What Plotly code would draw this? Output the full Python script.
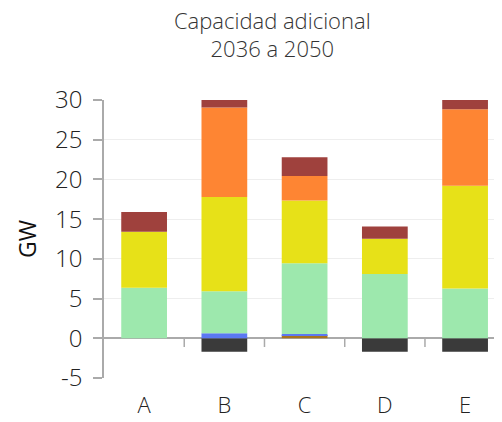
import plotly.graph_objects as go

# escenarios
categories = ['A', 'B', 'C', 'D', 'E']

# GW por tecnologia (negativos = retiros)
retiros = [0, -1.7, 0, -1.7, -1.7]
cafe = [0, 0, 0.4, 0, 0]
azul = [0, 0.63, 0.15, 0, 0]
verde = [6.35, 5.3, 8.9, 8.1, 6.26]
amarillo = [7.05, 11.87, 7.91, 4.42, 12.94]
naranja = [0, 11.25, 3.06, 0, 9.63]
granate = [2.5, 1.3, 2.36, 1.56, 1.4]

y_ticks = [-5, 0, 5, 10, 15, 20, 25, 30]
y_labels = ['-5', '0', '5', '10', '15', '20', '25', '30']

series = [
    ('retiros', retiros, '#3a3a3a'),
    ('cafe', cafe, '#a8741f'),
    ('azul', azul, '#5b78f2'),
    ('verde', verde, '#9de8ad'),
    ('amarillo', amarillo, '#e7e118'),
    ('naranja', naranja, '#fe8533'),
    ('granate', granate, '#9f413d'),
]

font = 'Open Sans'

fig = go.Figure()
for name, vals, color in series:
    fig.add_bar(x=categories, y=vals, name=name, marker_color=color,
                marker_line_width=0)

# ticks del eje x sobre la linea del cero
for i in range(len(categories) - 1):
    fig.add_shape(type='line', xref='x', yref='y', x0=i + 0.5, x1=i + 0.5,
                  y0=0, y1=-1.1, line=dict(color='#aaaaaa', width=1.5))

# la pagina deja 8px de margen en el body
fig.update_layout(
    width=494, height=414,
    barmode='relative', bargap=0.43,
    showlegend=False,
    plot_bgcolor='white', paper_bgcolor='white',
    margin=dict(l=96, r=0, t=92, b=44),
    font=dict(family=font, color='#222222', weight=300),
    title=dict(text='Capacidad adicional<br>2036 a 2050', x=0.535, xanchor='center',
               y=0.95, yanchor='top',
               font=dict(size=22, family=font, weight=300, color='#333333')),
)
fig.update_xaxes(range=[-0.5, 4.46], showline=False, ticks='',
                 tickfont=dict(size=22), showgrid=False, ticklabelstandoff=12)
fig.update_yaxes(range=[-5, 30], tickvals=y_ticks, ticktext=y_labels,
                 showline=True, linecolor='#aaaaaa',
                 linewidth=1.5, ticks='outside', ticklen=9, tickcolor='#aaaaaa',
                 tickwidth=1.5, gridcolor='#eeeeee', zeroline=True,
                 zerolinecolor='#aaaaaa', zerolinewidth=1.5,
                 tickfont=dict(size=24), ticklabelstandoff=6,
                 title=dict(text='GW', font=dict(size=23, weight=500, color='#111111'),
                            standoff=12))

fig.write_html('out.html')
